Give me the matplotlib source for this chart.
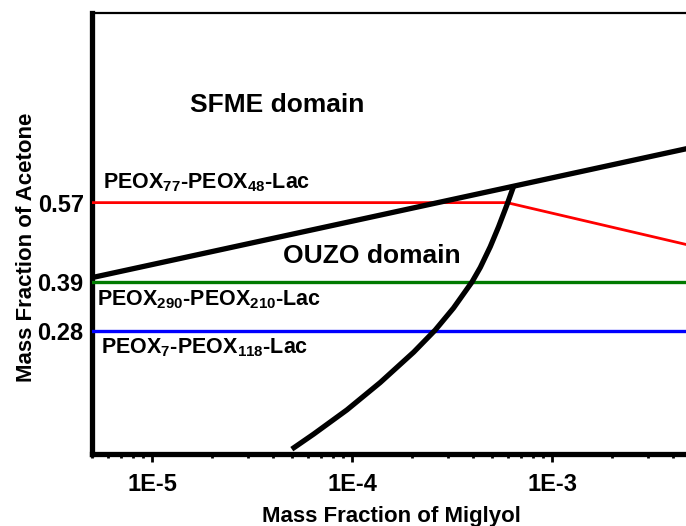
import matplotlib
matplotlib.use("Agg")
import matplotlib.pyplot as plt
from matplotlib.ticker import FixedLocator, LogLocator, NullFormatter, FuncFormatter

plt.rcParams['font.family'] = ['Liberation Sans', 'DejaVu Sans']
plt.rcParams['font.weight'] = 'bold'
plt.rcParams['mathtext.fontset'] = 'custom'
plt.rcParams['mathtext.rm'] = 'Liberation Sans:bold'
plt.rcParams['mathtext.bf'] = 'Liberation Sans:bold'
plt.rcParams['mathtext.it'] = 'Liberation Sans:bold'
plt.rcParams['mathtext.default'] = 'rm'

# ---- data ----
boundary_x = [5e-6, 5e-3]
boundary_y = [0.40, 0.695]

curve_x = [4.99e-5, 6.41e-5, 9.41e-5, 1.38e-4, 2.03e-4, 2.60e-4, 3.21e-4, 3.97e-4,
           4.37e-4, 4.90e-4, 5.39e-4, 5.94e-4, 6.41e-4]
curve_y = [0.011, 0.045, 0.100, 0.162, 0.231, 0.281, 0.331, 0.390,
           0.423, 0.470, 0.515, 0.565, 0.607]

red_x = [5e-6, 5.94e-4, 5e-3]
red_y = [0.57, 0.57, 0.472]

green_level = 0.39
blue_level = 0.28

x_limits = [5e-6, 5e-3]
y_limits = [0.0, 1.0]
y_ticks = [0.28, 0.39, 0.57]
y_tick_labels = ['0.28', '0.39', '0.57']
x_ticks = [1e-5, 1e-4, 1e-3]
x_tick_labels = ['1E-5', '1E-4', '1E-3']

fig = plt.figure(figsize=(6.86, 5.26), dpi=100)
ax = fig.add_axes([92/686, 72/526, 600/686, 441/526])
ax.set_xscale('log')
ax.set_xlim(*x_limits)
ax.set_ylim(*y_limits)

ax.plot(boundary_x, boundary_y, color='black', lw=3.8, solid_capstyle='butt', zorder=4)
ax.plot(curve_x, curve_y, color='black', lw=3.8, solid_capstyle='butt',
        solid_joinstyle='round', zorder=4)
ax.plot(red_x, red_y, color='#ff0000', lw=2.0, zorder=3)
ax.plot(x_limits, [green_level, green_level], color='#007a00', lw=2.4, zorder=3)
ax.plot(x_limits, [blue_level, blue_level], color='#0000ff', lw=2.4, zorder=3)

# spines
ax.spines['left'].set_linewidth(3.8)
ax.spines['bottom'].set_linewidth(3.8)
ax.spines['top'].set_linewidth(1.6)
ax.spines['right'].set_visible(False)

ax.xaxis.set_major_locator(FixedLocator(x_ticks))
ax.xaxis.set_major_formatter(FuncFormatter(
    lambda v, p: x_tick_labels[x_ticks.index(min(x_ticks, key=lambda t: abs(t - v)))]))
ax.xaxis.set_minor_locator(LogLocator(base=10, subs=range(2, 10), numticks=20))
ax.xaxis.set_minor_formatter(NullFormatter())
ax.tick_params(axis='x', which='major', length=6, width=2, direction='out', pad=8, labelsize=17)
ax.tick_params(axis='x', which='minor', length=3, width=2, direction='out')
ax.set_yticks(y_ticks)
ax.set_yticklabels(y_tick_labels)
ax.tick_params(axis='y', which='major', length=0, pad=6, labelsize=17)
for lab in ax.get_xticklabels() + ax.get_yticklabels():
    lab.set_fontweight('bold')

ax.set_xlabel('Mass Fraction of Miglyol', fontsize=16, fontweight='bold')
ax.xaxis.set_label_coords((391 - 92) / 600, -52 / 441)
ax.set_ylabel('Mass Fraction of Acetone', fontsize=16, fontweight='bold')
ax.yaxis.set_label_coords(-(92 - 37) / 600, (454 - 247) / 441)

ax.text(1.55e-5, 0.776, 'SFME domain', fontsize=19, fontweight='bold', ha='left', va='baseline')
ax.text(4.52e-5, 0.434, 'OUZO domain', fontsize=19, fontweight='bold', ha='left', va='baseline')
ax.text(5.69e-6, 0.602, r'PEOX$_{77}$-PEOX$_{48}$-Lac', fontsize=15.5, ha='left', va='baseline')
ax.text(5.3e-6, 0.337, r'PEOX$_{290}$-PEOX$_{210}$-Lac', fontsize=15.5, ha='left', va='baseline')
ax.text(5.56e-6, 0.2285, r'PEOX$_{7}$-PEOX$_{118}$-Lac', fontsize=15.5, ha='left', va='baseline')

fig.savefig('out.png', dpi=100)
